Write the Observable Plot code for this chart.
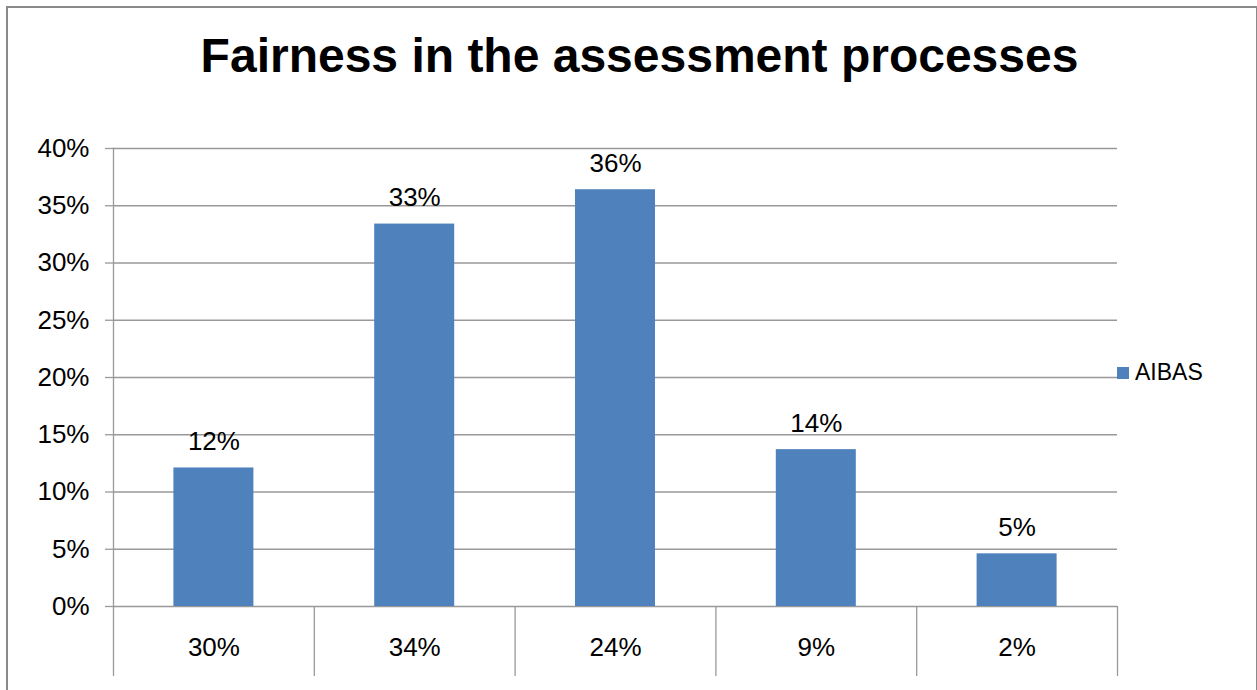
<!DOCTYPE html>
<html>
<head>
<meta charset="utf-8">
<script src="https://cdn.jsdelivr.net/npm/d3@7"></script>
<script src="https://cdn.jsdelivr.net/npm/@observablehq/plot@0.6"></script>
<style>
  html, body { margin: 0; padding: 0; background: #fff; }
  #wrap { position: relative; width: 1257px; height: 690px; overflow: hidden; font-family: "Liberation Sans", Arial, sans-serif; background: #fff; }
  #border { position: absolute; left: 6px; top: 6px; width: 1252px; height: 720px; box-sizing: border-box; border: 2px solid #8a8a8a; }
  #title { position: absolute; left: 11px; top: 32px; width: 1257px; text-align: center; font-size: 48px; line-height: 48px; font-weight: bold; color: #000; }
  #chart { position: absolute; left: 0; top: 110px; }
  #legend { position: absolute; left: 1117px; top: 359px; display: flex; align-items: center; font-size: 23px; color: #000; }
  #legend .sw { width: 12px; height: 12px; background: #4F81BD; margin-right: 6px; }
</style>
</head>
<body>
<div id="wrap">
  <div id="border"></div>
  <div id="title">Fairness in the assessment processes</div>
  <div id="chart"></div>
  <div id="legend"><span class="sw"></span><span id="legend-label"></span></div>
</div>
<script>
const title = "Fairness in the assessment processes";
const seriesName = "AIBAS";
const categories = ["30%", "34%", "24%", "9%", "2%"];
const values = [0.121, 0.334, 0.364, 0.137, 0.046];
const yTicks = [0, 0.05, 0.10, 0.15, 0.20, 0.25, 0.30, 0.35, 0.40];

document.getElementById("legend-label").textContent = seriesName;

const data = categories.map((c, i) => ({ category: c, value: values[i] }));

const W = 1257, H = 580;
const mL = 113, mR = 140, mT = 38, mB = 84;
const bw = (W - mL - mR) / categories.length;
const barW = 80;
const inset = (bw - barW) / 2;
const pct = d3.format(".0%");

const plot = Plot.plot({
  width: W,
  height: H,
  marginLeft: mL,
  marginRight: mR,
  marginTop: mT,
  marginBottom: mB,
  style: { fontFamily: "'Liberation Sans', Arial, sans-serif", fontSize: "26px", color: "#000", background: "transparent", overflow: "visible" },
  x: { domain: categories, padding: 0, round: false },
  y: { domain: [0, 0.4] },
  marks: [
    Plot.gridY(yTicks, { stroke: "#999", strokeOpacity: 1, strokeWidth: 1.3 }),
    Plot.axisY(yTicks, { tickFormat: pct, tickSize: 8, tickPadding: 16, stroke: "#999", strokeWidth: 1.3, fontSize: 26, fill: "#000", label: null }),
    Plot.axisX({ tickSize: 0, tickPadding: 31, fontSize: 26, fill: "#000", label: null }),
    Plot.frame({ anchor: "left", stroke: "#999", strokeWidth: 1.3 }),
    Plot.ruleX(categories, { x: d => d, dx: -bw / 2, insetTop: H - mT - mB, insetBottom: -70, stroke: "#999", strokeWidth: 1.3 }),
    Plot.ruleX([categories[categories.length - 1]], { x: d => d, dx: bw / 2, insetTop: H - mT - mB, insetBottom: -70, stroke: "#999", strokeWidth: 1.3 }),
    Plot.barY(data, { x: "category", y: "value", fill: "#4F81BD", insetLeft: inset, insetRight: inset }),
    Plot.text(data, { x: "category", y: "value", text: d => pct(d.value), dy: -26, fontSize: 26, fill: "#000", lineAnchor: "middle" })
  ]
});
document.getElementById("chart").appendChild(plot);
</script>
</body>
</html>
